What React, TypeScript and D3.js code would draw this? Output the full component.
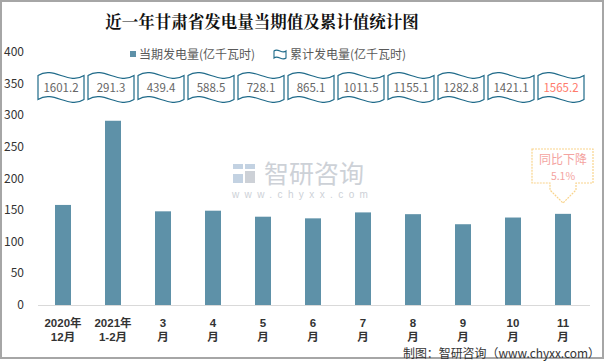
import React from "react";
import * as d3 from "d3";

const categoriesTop = ["2020年", "2021年", "3", "4", "5", "6", "7", "8", "9", "10", "11"];
const categoriesBottom = ["12月", "1-2月", "月", "月", "月", "月", "月", "月", "月", "月", "月"];
const currentValues = [158.2, 291.3, 148.1, 149.1, 139.6, 137.0, 146.4, 143.6, 127.7, 138.3, 144.1];
const cumulativeValues = ["1601.2", "291.3", "439.4", "588.5", "728.1", "865.1", "1011.5", "1155.1", "1282.8", "1421.1", "1565.2"];
const yTicks = [0, 50, 100, 150, 200, 250, 300, 350, 400];

const W = 605;
const H = 363;
const FONT = "'Noto Sans CJK SC', 'Noto Sans', sans-serif";
const TIGHT = "'Liberation Sans', 'Noto Sans CJK SC', sans-serif";

function wavePath(l: number, r: number, t: number, b: number, a: number) {
  const w = r - l;
  return `M${l},${t} C${l + w / 3},${t - 2 * a} ${l + (2 * w) / 3},${t + 2 * a} ${r},${t} L${r},${b} C${r - w / 3},${b + 2 * a} ${l + w / 3},${b - 2 * a} ${l},${b} Z`;
}

export default function App() {
  const ids = categoriesTop.map((_, i) => String(i));
  const x = d3.scaleBand<string>().domain(ids).range([38, 588]).paddingInner(0.68).paddingOuter(0.34);
  const y = d3.scaleLinear().domain([0, 400]).range([305, 52]);
  const bw = x.bandwidth();
  const barColor = "#5E91A8";
  const waveColor = "#1F6A89";

  return (
    <svg width={W} height={H} style={{ position: "absolute", left: 0, top: 0, display: "block" }} fontFamily={FONT}>
      <rect x={0} y={0} width={W} height={H} fill="#fff" />
      <rect x={1} y={1} width={602} height={357} fill="none" stroke="#A6A6A6" strokeWidth={2} />

      {/* title */}
      <text x={262} y={28} textAnchor="middle" fontSize={16.5} fontWeight="bold" fill="#111" fontFamily="'Noto Serif CJK SC', 'Noto Sans CJK SC', serif">
        近一年甘肃省发电量当期值及累计值统计图
      </text>

      {/* watermark */}
      <g>
        <rect x={233} y={164} width={10} height={5} fill="#C3D2E2" />
        <rect x={245} y={164} width={10} height={5} fill="#C3D2E2" />
        <rect x={233} y={174} width={10} height={9} fill="#C3D2E2" />
        <rect x={245} y={171} width={10} height={12} fill="#CDD1D7" />
        <text x={264} y={183} fontSize={25} fill="#CDD1D7" fontFamily={TIGHT}>智研咨询</text>
        <text x={232} y={198} fontSize={10} fill="#CDD1D7" letterSpacing={5.4} fontFamily={TIGHT}>www.chyxx.com</text>
      </g>

      {/* legend */}
      <rect x={130} y={51} width={6} height={6} fill={barColor} />
      <text x={139} y={58.5} fontSize={12} fill="#595959">当期发电量(亿千瓦时)</text>
      <path d={wavePath(274, 286, 51, 58, 1.8)} fill="none" stroke={waveColor} strokeWidth={1.1} />
      <text x={290} y={58.5} fontSize={12} fill="#595959">累计发电量(亿千瓦时)</text>

      {/* y axis labels */}
      {yTicks.map((t) => (
        <text key={t} x={24} y={y(t) + 4} textAnchor="end" fontSize={12} fill="#333">
          {t}
        </text>
      ))}

      {/* bars */}
      {currentValues.map((v, i) => (
        <rect key={i} x={x(ids[i])!} y={y(v)} width={bw} height={y(0) - y(v)} fill={barColor} />
      ))}

      {/* axis line */}
      <line x1={38} x2={590} y1={305.5} y2={305.5} stroke="#D9D9D9" strokeWidth={1} />

      {/* x labels */}
      {ids.map((id, i) => {
        const cx = x(id)! + bw / 2;
        return (
          <g key={id} fontFamily={TIGHT}>
            <text x={cx} y={326.5} textAnchor="middle" fontSize={11.5} fontWeight="bold" fill="#333">
              {categoriesTop[i]}
            </text>
            <text x={cx} y={341} textAnchor="middle" fontSize={11.5} fontWeight="bold" fill="#333">
              {categoriesBottom[i]}
            </text>
          </g>
        );
      })}

      {/* cumulative wave boxes */}
      {ids.map((id, i) => {
        const cx = x(id)! + bw / 2 - 2;
        const last = i === ids.length - 1;
        return (
          <g key={"w" + id}>
            <path d={wavePath(cx - 23, cx + 23, 75.5, 99.5, 5)} fill="#fff" stroke={waveColor} strokeWidth={1.2} />
            <text x={cx} y={91.5} textAnchor="middle" fontSize={11.5} fill={last ? "#FF7B6B" : "#666"}>
              {cumulativeValues[i]}
            </text>
          </g>
        );
      })}

      {/* callout */}
      {(() => {
        const cx = x(ids[10])! + bw / 2;
        return (
          <g>
            <path
              d={`M${cx - 31},149 H${cx + 30} V183 H${cx + 13} V190 L${cx},203 L${cx - 13},190 V183 H${cx - 31} Z`}
              fill="#fff"
              stroke="#F9D48C"
              strokeWidth={1.2}
              strokeDasharray="2,1"
            />
            <text x={cx} y={163.5} textAnchor="middle" fontSize={12} fill="#F4A3A0">同比下降</text>
            <text x={cx} y={179.5} textAnchor="middle" fontSize={10.5} fill="#F4A3A0">5.1%</text>
          </g>
        );
      })()}

      {/* footer */}
      <text x={600} y={357.5} textAnchor="end" fontSize={12} fill="#333" textLength={197} lengthAdjust="spacingAndGlyphs">
        制图：智研咨询（www.chyxx.com）
      </text>
    </svg>
  );
}
